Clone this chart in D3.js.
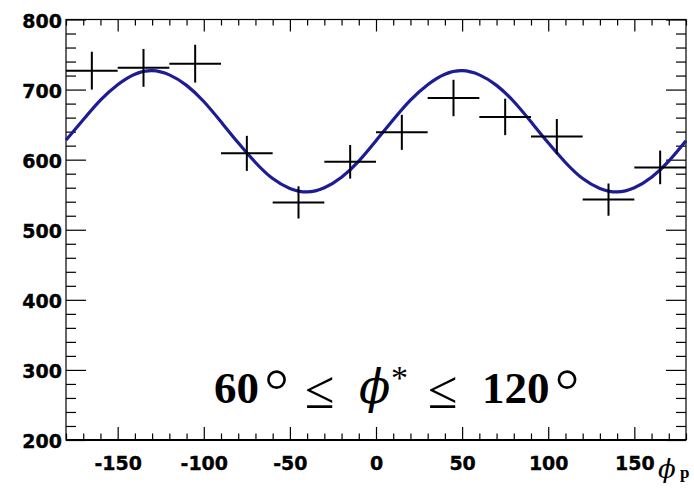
<!DOCTYPE html>
<html>
<head>
<meta charset="utf-8">
<script src="https://cdn.jsdelivr.net/npm/d3@7"></script>
<style>
  html, body { margin: 0; padding: 0; background: #fff; }
  svg { display: block; }
</style>
</head>
<body>
<svg id="chart" width="694" height="489"></svg>
<script>
// Azimuthal distribution, 30-degree bins
const binCenters = [-165, -135, -105, -75, -45, -15, 15, 45, 75, 105, 135, 165];
const binHalfWidth = [15, 15, 15, 15, 15, 15, 15, 15, 15, 15, 15, 15];
const counts = [727, 731, 737, 609, 539, 597, 639, 688, 661, 633, 543, 589];
const countErrors = [27, 27, 27, 25, 23, 24, 25, 26, 26, 25, 23, 24];

// Fitted curve, sampled every 10 degrees
const fitPhi = [-180, -170, -160, -150, -140, -130, -120, -110, -100, -90, -80, -70, -60,
  -50, -40, -30, -20, -10, 0, 10, 20, 30, 40, 50, 60, 70, 80, 90, 100, 110, 120, 130,
  140, 150, 160, 170, 180];
const fitValues = [628, 657, 685, 707, 722, 727, 721, 706, 683, 654, 624, 596, 573,
  559, 554, 560, 575, 598, 627, 657, 685, 707, 722, 727, 721, 706, 683, 654, 624, 596,
  573, 559, 554, 560, 575, 598, 627];

// Axis ticks
const xMajorTicks = [-150, -100, -50, 0, 50, 100, 150];
const xMinorTicks = d3.range(-180, 181, 10).filter(v => v % 50 !== 0);
const yMajorTicks = [200, 300, 400, 500, 600, 700, 800];
const yMinorTicks = d3.range(200, 801, 20).filter(v => v % 100 !== 0);

const svg = d3.select("#chart");
const frameLeft = 66, frameRight = 686, frameTop = 19.5, frameBottom = 440;

const x = d3.scaleLinear().domain([-180, 180]).range([frameLeft, frameRight]);
const y = d3.scaleLinear().domain([200, 800]).range([frameBottom, frameTop]);

const labelFont = "'DejaVu Sans', sans-serif";
const plainNumber = d => String(d);

function styleAxis(g, showLabels) {
  g.select(".domain").remove();
  g.selectAll(".tick line").attr("stroke", "#000").attr("stroke-width", 1.2);
  if (showLabels) {
    g.selectAll(".tick text")
      .attr("fill", "#000")
      .attr("stroke", "#000")
      .attr("stroke-width", 0.35)
      .attr("font-family", labelFont)
      .attr("font-weight", "bold")
      .attr("font-size", 19);
  } else {
    g.selectAll(".tick text").remove();
  }
}

// Bottom axis: minor then major ticks with labels
svg.append("g").attr("transform", `translate(0,${frameBottom})`)
  .call(d3.axisBottom(x).tickValues(xMinorTicks).tickSize(-6.5).tickFormat(""))
  .call(g => styleAxis(g, false));
svg.append("g").attr("transform", `translate(0,${frameBottom})`)
  .call(d3.axisBottom(x).tickValues(xMajorTicks).tickSize(-13).tickFormat(plainNumber))
  .call(g => styleAxis(g, true))
  .call(g => g.selectAll(".tick text").attr("dy", "0.71em").attr("y", 17));

// Top axis (ticks only)
svg.append("g").attr("transform", `translate(0,${frameTop})`)
  .call(d3.axisTop(x).tickValues(xMinorTicks).tickSize(-6))
  .call(g => styleAxis(g, false));
svg.append("g").attr("transform", `translate(0,${frameTop})`)
  .call(d3.axisTop(x).tickValues(xMajorTicks).tickSize(-12))
  .call(g => styleAxis(g, false));

// Left axis
svg.append("g").attr("transform", `translate(${frameLeft},0)`)
  .call(d3.axisLeft(y).tickValues(yMinorTicks).tickSize(-10))
  .call(g => styleAxis(g, false));
svg.append("g").attr("transform", `translate(${frameLeft},0)`)
  .call(d3.axisLeft(y).tickValues(yMajorTicks).tickSize(-20).tickPadding(4).tickFormat(plainNumber))
  .call(g => styleAxis(g, true))
  .call(g => g.selectAll(".tick text").attr("dy", "0.42em"));

// Right axis (ticks only)
svg.append("g").attr("transform", `translate(${frameRight},0)`)
  .call(d3.axisRight(y).tickValues(yMinorTicks).tickSize(-10))
  .call(g => styleAxis(g, false));
svg.append("g").attr("transform", `translate(${frameRight},0)`)
  .call(d3.axisRight(y).tickValues(yMajorTicks).tickSize(-20))
  .call(g => styleAxis(g, false));

// Frame
svg.append("rect")
  .attr("x", frameLeft).attr("y", frameTop)
  .attr("width", frameRight - frameLeft).attr("height", frameBottom - frameTop)
  .attr("fill", "none").attr("stroke", "#000").attr("stroke-width", 1.2);
svg.append("line")
  .attr("x1", frameLeft).attr("x2", frameRight).attr("y1", frameBottom).attr("y2", frameBottom)
  .attr("stroke", "#000").attr("stroke-width", 2.2);

// Fit curve
const fitData = fitPhi.map((p, i) => ({ p, v: fitValues[i] }));
svg.append("path")
  .datum(fitData)
  .attr("fill", "none")
  .attr("stroke", "#1c1c96")
  .attr("stroke-width", 3.2)
  .attr("d", d3.line().x(d => x(d.p)).y(d => y(d.v)).curve(d3.curveNatural));

// Data points with error bars
const points = binCenters.map((c, i) => ({ c, w: binHalfWidth[i], v: counts[i], e: countErrors[i] }));
const pg = svg.append("g").attr("stroke", "#000").attr("stroke-width", 2);
pg.selectAll("line.h").data(points).join("line").attr("class", "h")
  .attr("x1", d => x(d.c - d.w)).attr("x2", d => x(d.c + d.w))
  .attr("y1", d => y(d.v)).attr("y2", d => y(d.v));
pg.selectAll("line.v").data(points).join("line").attr("class", "v")
  .attr("x1", d => x(d.c)).attr("x2", d => x(d.c))
  .attr("y1", d => y(d.v - d.e)).attr("y2", d => y(d.v + d.e));

// Angular range annotation
const serif = "'Liberation Serif', 'DejaVu Serif', serif";
const baseY = 403;
const ann = svg.append("g")
  .attr("font-family", serif)
  .attr("fill", "#000");
function piece(text, px, py, size, opts = {}) {
  const t = ann.append("text").attr("x", px).attr("y", py).attr("font-size", size).text(text);
  if (opts.bold) t.attr("font-weight", "bold");
  if (opts.italic) t.attr("font-style", "italic");
  if (opts.family) t.attr("font-family", opts.family);
  return t;
}
// An angle in bold digits followed by a large light degree ring
function angle(digits, px) {
  const t = ann.append("text").attr("x", px).attr("y", baseY).attr("font-size", 45);
  t.append("tspan").attr("font-weight", "bold").text(digits);
  t.append("tspan").attr("dy", 17)
    .attr("font-size", 70).attr("font-weight", 300)
    .attr("font-family", "'DejaVu Sans', sans-serif").text("°");
}
angle("60", 214);
piece("≤", 305, baseY + 5, 54);
piece("ϕ", 359, baseY, 46, { italic: true, family: "'DejaVu Serif', serif" });
piece("*", 391, baseY - 14, 34);
piece("≤", 428, baseY + 5, 54);
angle("120", 482);

// X axis title
const xt = svg.append("g").attr("font-family", serif).attr("fill", "#000");
xt.append("text").attr("x", 658).attr("y", 478).attr("font-size", 26)
  .attr("font-style", "italic").attr("font-family", "'DejaVu Serif', serif").text("ϕ");
xt.append("text").attr("x", 680).attr("y", 478).attr("font-size", 17)
  .attr("font-weight", "bold").text("p");
</script>
</body>
</html>
